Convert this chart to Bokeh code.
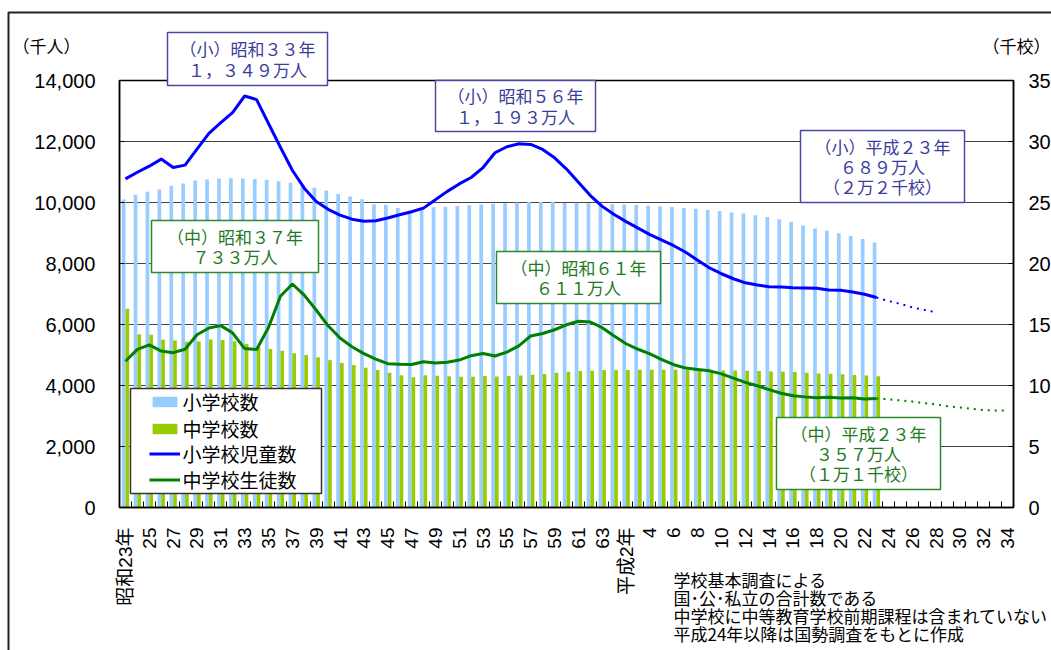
import math
import numpy as np
from bokeh.plotting import figure
from bokeh.models import (Range1d, LinearAxis, FixedTicker, NumeralTickFormatter,
                          Legend, LegendItem, Label, BoxAnnotation, ColumnDataSource)
from bokeh.embed import file_html
from bokeh.resources import INLINE

# ---- data: 昭和23年(1948) ～ 平成23年(2011) -------------------------------
# 学校数（千校）
elem_schools = [25.237, 25.638, 25.878, 26.056, 26.377, 26.555, 26.804, 26.880, 26.957, 26.988,
                26.964, 26.916, 26.858, 26.741, 26.615, 26.423, 26.210, 25.977, 25.687, 25.487,
                25.262, 24.856, 24.790, 24.540, 24.325, 24.592, 24.606, 24.652, 24.717, 24.777,
                24.828, 24.899, 24.945, 25.005, 25.043, 25.045, 25.064, 24.952, 24.982, 24.933,
                24.901, 24.851, 24.827, 24.798, 24.730, 24.676, 24.635, 24.548, 24.482, 24.376,
                24.295, 24.188, 24.106, 23.964, 23.808, 23.633, 23.420, 23.123, 22.878, 22.693,
                22.476, 22.258, 22.000, 21.721]
junior_schools = [16.285, 14.200, 14.165, 13.748, 13.685, 13.577, 13.612, 13.767, 13.724, 13.622,
                  13.392, 13.183, 12.986, 12.849, 12.647, 12.502, 12.310, 12.079, 11.851, 11.684,
                  11.463, 11.278, 11.040, 10.839, 10.686, 10.836, 10.802, 10.751, 10.719, 10.723,
                  10.778, 10.746, 10.780, 10.810, 10.879, 10.950, 11.047, 11.131, 11.190, 11.213,
                  11.264, 11.264, 11.275, 11.290, 11.300, 11.292, 11.289, 11.274, 11.269, 11.257,
                  11.236, 11.220, 11.209, 11.191, 11.159, 11.134, 11.102, 11.035, 10.992, 10.955,
                  10.915, 10.864, 10.815, 10.751]
# 児童・生徒数（千人）
elem_students = [10775, 10992, 11191, 11423, 11149, 11225, 11751, 12267, 12616, 12956,
                 13492, 13375, 12591, 11811, 11057, 10471, 10031, 9776, 9584, 9453,
                 9383, 9403, 9493, 9596, 9696, 9816, 10089, 10365, 10609, 10819,
                 11146, 11630, 11827, 11925, 11902, 11740, 11465, 11095, 10665, 10227,
                 9873, 9607, 9373, 9158, 8948, 8768, 8583, 8370, 8106, 7855,
                 7664, 7500, 7366, 7297, 7239, 7227, 7201, 7197, 7188, 7133,
                 7122, 7064, 6993, 6887]
junior_students = [4793, 5186, 5333, 5129, 5076, 5188, 5664, 5884, 5963, 5718,
                   5210, 5180, 5900, 6925, 7328, 6964, 6476, 5957, 5555, 5271,
                   5044, 4865, 4717, 4694, 4688, 4780, 4735, 4762, 4833, 4977,
                   5048, 4966, 5094, 5300, 5624, 5706, 5828, 5990, 6106, 6082,
                   5896, 5620, 5369, 5188, 5037, 4850, 4681, 4571, 4528, 4481,
                   4381, 4244, 4104, 3992, 3863, 3748, 3664, 3627, 3602, 3615,
                   3592, 3600, 3558, 3574]
# 国勢調査による推計（平成23年～）
elem_proj = [6887, 6770, 6680, 6560, 6480, 6400]                       # 平成23～28年
junior_proj = [3574, 3550, 3510, 3475, 3420, 3380, 3320, 3280, 3235, 3190, 3180, 3180]  # 平成23～34年

# x 軸目盛ラベル（2年おき）
tick_labels = ["昭和23年", "25", "27", "29", "31", "33", "35", "37", "39", "41",
               "43", "45", "47", "49", "51", "53", "55", "57", "59", "61",
               "63", "平成2年", "4", "6", "8", "10", "12", "14", "16", "18",
               "20", "22", "24", "26", "28", "30", "32", "34"]
n_years = 2 * len(tick_labels) - 1   # 昭和23年～平成34年

PEOPLE_MAX = 14000
SCHOOL_MAX = 35

JP = "Noto Sans CJK JP"
NUM = "Liberation Sans, Noto Sans CJK JP"
BLUE_TXT = "#3c3c9c"
BLUE_BOX = "#4a4aa6"
GREEN_TXT = "#1f7a1f"
GREEN_BOX = "#2b8a2b"

# ---- canvas / plot-area geometry (px) --------------------------------------
W, H = 1051, 650
PL, PR, PT, PB = 119, 1013, 80, 507

x_per_px = n_years / (PR - PL)
x_range = Range1d(-0.5 - PL * x_per_px, n_years - 0.5 + (W - PR) * x_per_px)
y_per_px = PEOPLE_MAX / (PB - PT)
y_range = Range1d(-(H - PB) * y_per_px, PEOPLE_MAX + PT * y_per_px)
s_per_px = SCHOOL_MAX / (PB - PT)
s_range = Range1d(-(H - PB) * s_per_px, SCHOOL_MAX + PT * s_per_px)

p = figure(width=W, height=H, x_range=x_range, y_range=y_range,
           output_backend="svg", toolbar_location=None, min_border=0)
p.extra_y_ranges = {"schools": s_range}
p.title.visible = False
p.background_fill_color = "white"
p.border_fill_color = "white"
p.outline_line_color = None
p.xgrid.visible = False
p.ygrid.visible = False

# horizontal gridlines behind the bars
people_ticks = list(range(0, PEOPLE_MAX + 1, 2000))
p.segment(x0=-0.5, x1=n_years - 0.5, y0=people_ticks, y1=people_ticks,
          line_color="#444444", line_width=1, level="underlay")

idx = np.arange(len(elem_schools))
src = ColumnDataSource(dict(xe=idx - 0.155, xj=idx + 0.155,
                            es=elem_schools, js=junior_schools,
                            x=idx, est=elem_students, jst=junior_students))

r_es = p.vbar(x="xe", top="es", width=0.31, bottom=0, y_range_name="schools",
              fill_color="#99CCFF", line_color=None, source=src)
r_js = p.vbar(x="xj", top="js", width=0.31, bottom=0, y_range_name="schools",
              fill_color="#99CC00", line_color=None, source=src)

r_el = p.line("x", "est", line_color="#0000FF", line_width=3, source=src)
r_jl = p.line("x", "jst", line_color="#008000", line_width=3, source=src)

last = len(elem_students) - 1
p.line(np.arange(last, last + len(elem_proj)), elem_proj,
       line_color="#0000FF", line_width=2, line_dash="2 5")
p.line(np.arange(last, last + len(junior_proj)), junior_proj,
       line_color="#008000", line_width=2, line_dash="2 5")

# ---- axes (pinned to the plot area) ----------------------------------------
xa = p.xaxis[0]
xa.fixed_location = 0
xa.bounds = (-0.5, n_years - 0.5)
xa.ticker = FixedTicker(ticks=list(range(0, n_years, 2)),
                        minor_ticks=[i - 0.5 for i in range(n_years + 1)])
xa.major_label_overrides = {i * 2: t for i, t in enumerate(tick_labels)}
xa.major_label_orientation = math.pi / 2
xa.major_label_text_font = NUM
xa.major_label_text_font_size = "19px"
xa.major_label_text_color = "black"
xa.major_label_standoff = 14
xa.major_tick_line_color = None
xa.minor_tick_in = 6
xa.minor_tick_out = 0
xa.minor_tick_line_color = "black"
xa.axis_line_color = "black"
xa.axis_line_width = 1.5

ya = p.yaxis[0]
ya.fixed_location = -0.5
ya.bounds = (0, PEOPLE_MAX)
ya.ticker = FixedTicker(ticks=people_ticks)
ya.formatter = NumeralTickFormatter(format="0,0")
ya.major_label_text_font = "Liberation Sans"
ya.major_label_text_font_size = "20px"
ya.major_label_text_color = "black"
ya.major_label_standoff = 24
ya.major_tick_in = 5
ya.major_tick_out = 0
ya.minor_tick_line_color = None
ya.axis_line_color = "black"
ya.axis_line_width = 1.5

ra = LinearAxis(y_range_name="schools", fixed_location=n_years - 0.5,
                bounds=(0, SCHOOL_MAX),
                ticker=FixedTicker(ticks=list(range(0, SCHOOL_MAX + 1, 5))))
ra.major_label_text_font = "Liberation Sans"
ra.major_label_text_font_size = "20px"
ra.major_label_text_color = "black"
ra.major_label_standoff = 15
ra.major_tick_in = 5
ra.major_tick_out = 0
ra.minor_tick_line_color = None
ra.axis_line_color = "black"
ra.axis_line_width = 1.5
p.add_layout(ra, "right")

# plot-area border
p.add_layout(BoxAnnotation(left=-0.5, right=n_years - 0.5, bottom=0, top=PEOPLE_MAX,
                           fill_alpha=0.0, line_color="black", line_width=1.5,
                           line_alpha=1.0))


# ---- annotations (canvas px, converted to bottom-up screen units) -----------
def box(l, t, r, b, color, fill=True, width=1.5):
    p.add_layout(BoxAnnotation(left=l, right=r, top=H - t, bottom=H - b,
                               left_units="screen", right_units="screen",
                               top_units="screen", bottom_units="screen",
                               fill_color="white", fill_alpha=1.0 if fill else 0.0,
                               line_color=color, line_width=width, line_alpha=1.0))


def text(x, y, s, color="black", size="17px", align="center", font=JP, lh=0.81):
    p.add_layout(Label(x=x, y=H - y, x_units="screen", y_units="screen",
                       text=s, text_align=align, text_baseline="middle",
                       text_font=font, text_font_size=size, text_color=color,
                       text_line_height=lh))


# outer frame
box(8, 12, 3000, 3000, "#222222", fill=False, width=2)

# axis unit captions
text(12, 45, "（千人）", align="left")
text(982, 45, "（千校）", align="left")

# callouts
callouts = [
    ((167, 32, 327, 85), "（小）昭和３３年\n１，３４９万人", BLUE_TXT, BLUE_BOX),
    ((435, 80, 595, 131), "（小）昭和５６年\n１，１９３万人", BLUE_TXT, BLUE_BOX),
    ((800, 130, 964, 202), "（小）平成２３年\n６８９万人\n（２万２千校）", BLUE_TXT, BLUE_BOX),
    ((151, 220, 318, 272), "（中）昭和３７年\n７３３万人", GREEN_TXT, GREEN_BOX),
    ((496, 251, 660, 303), "（中）昭和６１年\n６１１万人", GREEN_TXT, GREEN_BOX),
    ((776, 417, 940, 489), "（中）平成２３年\n３５７万人\n（１万１千校）", GREEN_TXT, GREEN_BOX),
]
for (l, t, r, b), s, tc, bc in callouts:
    box(l, t, r, b, bc)
    text((l + r) / 2, (t + b) / 2, s, color=tc)

# legend frame + one legend row per series
box(130, 388, 321, 493, "#333333")
legend_rows = [("小学校数", r_es, 401.7), ("中学校数", r_js, 428.3),
               ("小学校児童数", r_el, 453.3), ("中学校生徒数", r_jl, 479.3)]
for name, rend, cy in legend_rows:
    p.add_layout(Legend(items=[LegendItem(label=name, renderers=[rend])],
                        location=(148.5, H - (cy + 13.5)), padding=0, spacing=0, margin=0,
                        glyph_width=31, glyph_height=13, label_height=22, label_standoff=3,
                        label_text_font=NUM, label_text_font_size="19px",
                        label_text_color="black",
                        border_line_color=None, background_fill_alpha=0.0))

# footnote
text(673, 606, "学校基本調査による\n国･公･私立の合計数である\n中学校に中等教育学校前期課程は含まれていない\n平成24年以降は国勢調査をもとに作成",
     align="left", lh=0.73)

open("out.html", "w").write(file_html(p, INLINE))
